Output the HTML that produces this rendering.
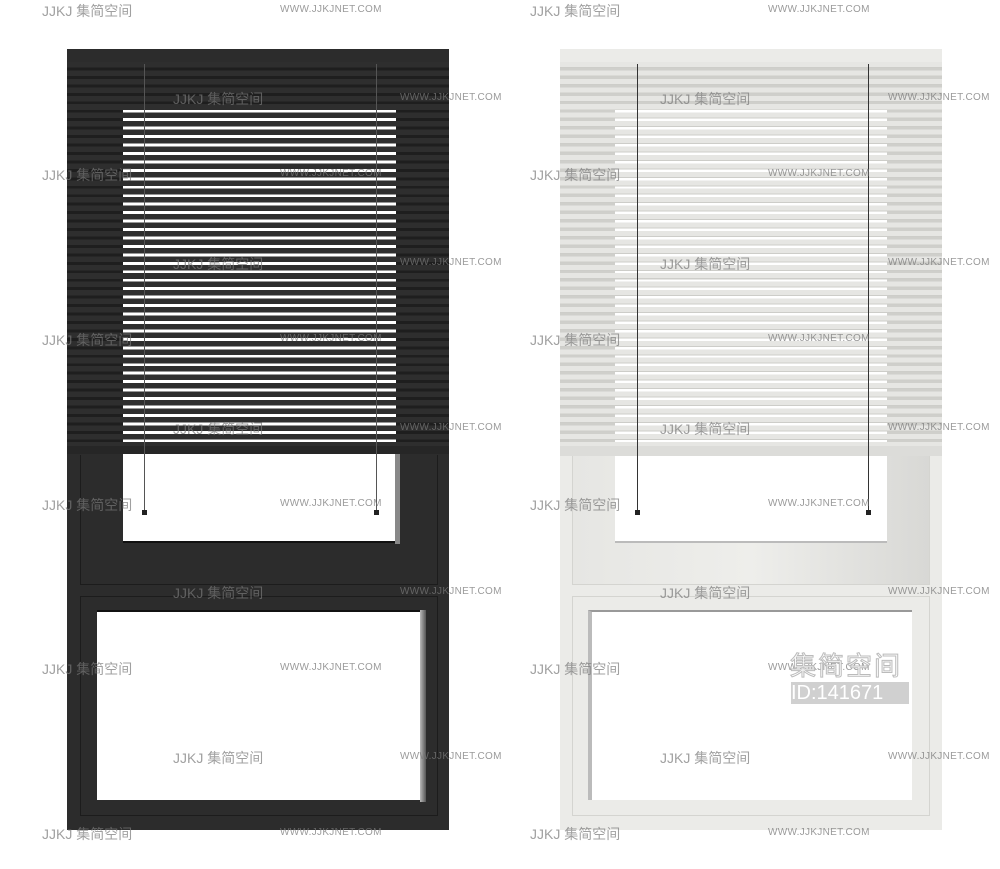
<!DOCTYPE html>
<html><head><meta charset="utf-8"><style>
body{margin:0;width:1000px;height:869px;background:#fff;position:relative;overflow:hidden;font-family:"Liberation Sans","Noto Sans CJK SC",sans-serif}
div{position:absolute;box-sizing:border-box}
.wm{font-size:14px;color:rgba(120,120,120,.7);white-space:nowrap}
.ww{font-size:10px;color:rgba(120,120,120,.75);white-space:nowrap;letter-spacing:.3px}
</style></head><body>

<!-- DARK WINDOW -->
<div style="left:67px;top:49px;width:382px;height:781px;background:#2c2c2c"></div>
<div style="left:67px;top:62px;width:382px;height:392px;background:#1e1e1e"></div>
<div style="left:80px;top:455px;width:358px;height:130px;border:1px solid #1c1c1c;border-top:none"></div>
<div style="left:80px;top:596px;width:358px;height:220px;border:1px solid #1c1c1c"></div>
<div style="left:123px;top:110px;width:273px;height:433px;background:#fff;border-bottom:2px solid #111"></div>
<div style="left:395px;top:452px;width:5px;height:92px;background:#888"></div>
<div style="left:97px;top:610px;width:324px;height:190px;background:#fff;border-top:2px solid #111"></div>
<div style="left:420px;top:610px;width:6px;height:192px;background:linear-gradient(90deg,#bbb,#555)"></div>
<div style="left:67px;top:62px;width:382px;height:390px;background:repeating-linear-gradient(to bottom,#2e2e2e 0 5.5px,rgba(0,0,0,0) 5.5px 8.45px)"></div>
<div style="left:67px;top:446px;width:382px;height:8px;background:#262626"></div>
<div style="left:144px;top:64px;width:1px;height:448px;background:#555"></div>
<div style="left:376px;top:64px;width:1px;height:448px;background:#555"></div>
<div style="left:142px;top:510px;width:5px;height:5px;background:#222"></div>
<div style="left:374px;top:510px;width:5px;height:5px;background:#222"></div>

<!-- WHITE WINDOW -->
<div style="left:560px;top:49px;width:382px;height:781px;background:#ebebe8"></div>
<div style="left:560px;top:62px;width:382px;height:392px;background:#cfcfcb"></div>
<div style="left:572px;top:455px;width:358px;height:130px;border:1px solid #d4d4d0;border-top:none;background:linear-gradient(90deg,#e6e6e3,#eeeeeb 50%,#d8d8d5)"></div>
<div style="left:572px;top:596px;width:358px;height:220px;border:1px solid #d4d4d0"></div>
<div style="left:615px;top:110px;width:272px;height:433px;background:#fff;border-bottom:2px solid #bbb"></div>
<div style="left:588px;top:610px;width:324px;height:190px;background:#fff;border-top:2px solid #999;border-left:4px solid #bbb"></div>
<div style="left:560px;top:62px;width:382px;height:390px;background:repeating-linear-gradient(to bottom,#e6e6e3 0 5px,#cdcdc9 5px 6px,rgba(255,255,255,0) 6px 8.45px)"></div>
<div style="left:560px;top:446px;width:382px;height:10px;background:#dcdcd9"></div>
<div style="left:637px;top:64px;width:1px;height:448px;background:#333"></div>
<div style="left:868px;top:64px;width:1px;height:448px;background:#333"></div>
<div style="left:635px;top:510px;width:5px;height:5px;background:#222"></div>
<div style="left:866px;top:510px;width:5px;height:5px;background:#222"></div>

<!-- watermarks -->
<div class="wm" style="left:42px;top:1px">JJKJ 集简空间</div><div class="wm" style="left:530px;top:1px">JJKJ 集简空间</div>
<div class="ww" style="left:280px;top:4px">WWW.JJKJNET.COM</div><div class="ww" style="left:768px;top:4px">WWW.JJKJNET.COM</div>
<div class="wm" style="left:173px;top:89px">JJKJ 集简空间</div><div class="wm" style="left:660px;top:89px">JJKJ 集简空间</div>
<div class="ww" style="left:400px;top:92px">WWW.JJKJNET.COM</div><div class="ww" style="left:888px;top:92px">WWW.JJKJNET.COM</div>
<div class="wm" style="left:42px;top:165px">JJKJ 集简空间</div><div class="wm" style="left:530px;top:165px">JJKJ 集简空间</div>
<div class="ww" style="left:280px;top:168px">WWW.JJKJNET.COM</div><div class="ww" style="left:768px;top:168px">WWW.JJKJNET.COM</div>
<div class="wm" style="left:173px;top:254px">JJKJ 集简空间</div><div class="wm" style="left:660px;top:254px">JJKJ 集简空间</div>
<div class="ww" style="left:400px;top:257px">WWW.JJKJNET.COM</div><div class="ww" style="left:888px;top:257px">WWW.JJKJNET.COM</div>
<div class="wm" style="left:42px;top:330px">JJKJ 集简空间</div><div class="wm" style="left:530px;top:330px">JJKJ 集简空间</div>
<div class="ww" style="left:280px;top:333px">WWW.JJKJNET.COM</div><div class="ww" style="left:768px;top:333px">WWW.JJKJNET.COM</div>
<div class="wm" style="left:173px;top:419px">JJKJ 集简空间</div><div class="wm" style="left:660px;top:419px">JJKJ 集简空间</div>
<div class="ww" style="left:400px;top:422px">WWW.JJKJNET.COM</div><div class="ww" style="left:888px;top:422px">WWW.JJKJNET.COM</div>
<div class="wm" style="left:42px;top:495px">JJKJ 集简空间</div><div class="wm" style="left:530px;top:495px">JJKJ 集简空间</div>
<div class="ww" style="left:280px;top:498px">WWW.JJKJNET.COM</div><div class="ww" style="left:768px;top:498px">WWW.JJKJNET.COM</div>
<div class="wm" style="left:173px;top:583px">JJKJ 集简空间</div><div class="wm" style="left:660px;top:583px">JJKJ 集简空间</div>
<div class="ww" style="left:400px;top:586px">WWW.JJKJNET.COM</div><div class="ww" style="left:888px;top:586px">WWW.JJKJNET.COM</div>
<div class="wm" style="left:42px;top:659px">JJKJ 集简空间</div><div class="wm" style="left:530px;top:659px">JJKJ 集简空间</div>
<div class="ww" style="left:280px;top:662px">WWW.JJKJNET.COM</div><div class="ww" style="left:768px;top:662px">WWW.JJKJNET.COM</div>
<div class="wm" style="left:173px;top:748px">JJKJ 集简空间</div><div class="wm" style="left:660px;top:748px">JJKJ 集简空间</div>
<div class="ww" style="left:400px;top:751px">WWW.JJKJNET.COM</div><div class="ww" style="left:888px;top:751px">WWW.JJKJNET.COM</div>
<div class="wm" style="left:42px;top:824px">JJKJ 集简空间</div><div class="wm" style="left:530px;top:824px">JJKJ 集简空间</div>
<div class="ww" style="left:280px;top:827px">WWW.JJKJNET.COM</div><div class="ww" style="left:768px;top:827px">WWW.JJKJNET.COM</div>

<div style="left:790px;top:646px;font-size:26px;color:rgba(255,255,255,.9);-webkit-text-stroke:1px #bbb;letter-spacing:2px;white-space:nowrap">集简空间</div>
<div style="left:791px;top:682px;width:118px;height:22px;background:#d0d0d0;color:#fff;font-size:20px;line-height:22px;white-space:nowrap">ID:141671</div>
</body></html>
